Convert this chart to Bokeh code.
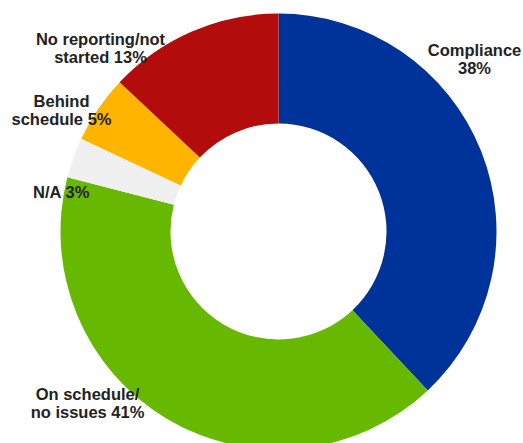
from bokeh.plotting import figure
from bokeh.models import Range1d, ColumnDataSource
from bokeh.core.properties import value
from bokeh.embed import file_html
from bokeh.resources import INLINE
import math

# ---- data ----
categories = ["Compliance", "On schedule/no issues", "N/A", "Behind schedule", "No reporting/not started"]
percents = [38, 41, 3, 5, 13]
colors = ["#003399", "#66b800", "#f0f0f0", "#ffb400", "#b30c0c"]
label_lines = [
    ["Compliance", "38%"],
    ["On schedule/", "no issues 41%"],
    ["N/A 3%"],
    ["Behind", "schedule 5%"],
    ["No reporting/not", "started 13%"],
]

# ---- layout (pixels) ----
W, H = 523, 443
cx, cy_px = 278, 231
r_out, r_in = 218, 108
label_pos = [(474, 49), (87, 393), (61, 191), (61, 100), (100, 38)]  # center x, first baseline (px from top)
line_step = 18

p = figure(width=W, height=H, output_backend="svg", toolbar_location=None,
           x_range=Range1d(0, W), y_range=Range1d(0, H), min_border=0)
p.axis.visible = False
p.grid.visible = False
p.outline_line_color = None
p.background_fill_color = "white"
p.border_fill_color = "white"

total = sum(percents)
starts, ends = [], []
cum = 0.0
for v in percents:
    starts.append(math.pi / 2 - 2 * math.pi * cum / total)
    cum += v
    ends.append(math.pi / 2 - 2 * math.pi * cum / total)

src = ColumnDataSource(dict(x=[cx] * len(percents), y=[H - cy_px] * len(percents),
                            start=starts, end=ends, color=colors, cat=categories))
p.annular_wedge(x="x", y="y", inner_radius=r_in, outer_radius=r_out,
                start_angle="start", end_angle="end", direction="clock",
                fill_color="color", line_color=None, source=src)

tx, ty, tt = [], [], []
for lines, (lx, ly) in zip(label_lines, label_pos):
    for i, ln in enumerate(lines):
        tx.append(lx)
        ty.append(H - (ly + i * line_step))
        tt.append(ln)
p.text(x=tx, y=ty, text=tt, text_align="center", text_baseline="alphabetic",
       text_font=value("Liberation Sans"), text_font_style="bold",
       text_font_size="16.5px", text_color="#222222")

open("out.html", "w").write(file_html(p, INLINE))
